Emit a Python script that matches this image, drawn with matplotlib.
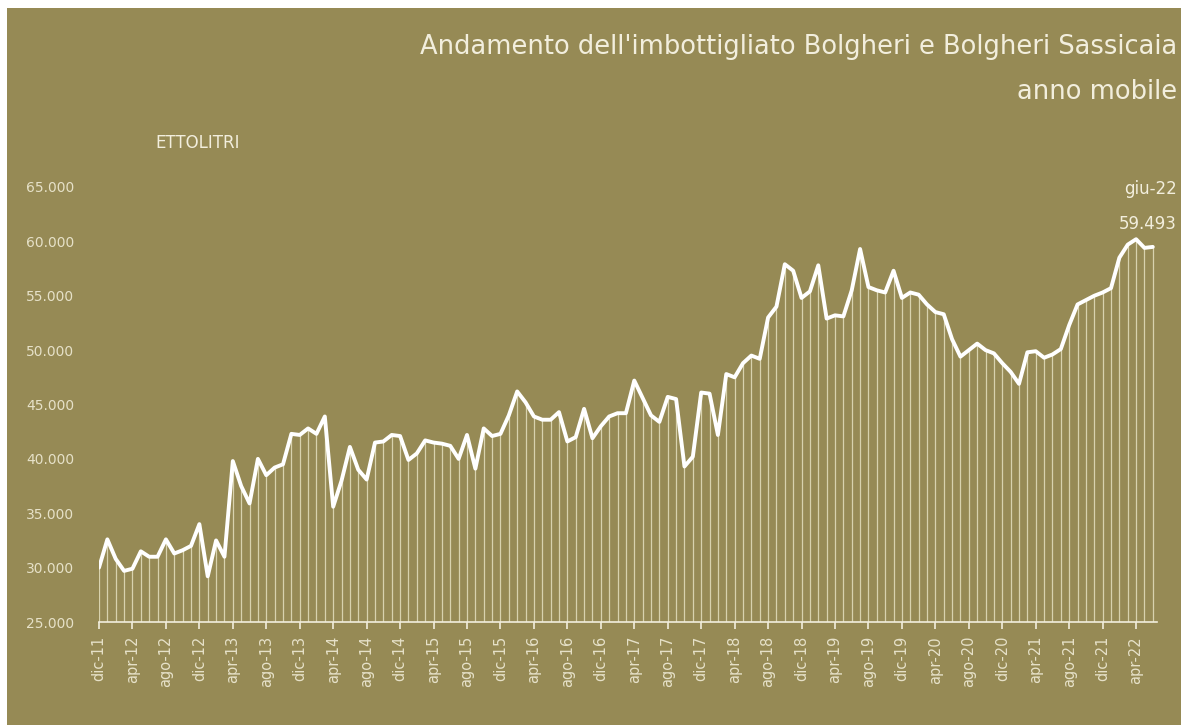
import matplotlib
matplotlib.use('Agg')

import matplotlib.pyplot as plt
import matplotlib.patches as patches
import numpy as np

# rolling 12-month bottled volume (hectolitres), monthly from dic-11 to giu-22
ettolitri = [
  30000, 32600, 30800, 29700, 29900, 31500, 31000, 31000, 32600, 31300,
  31600, 32000, 34000, 29200, 32500, 31000, 39800, 37500, 35900, 40000,
  38500, 39200, 39500, 42300, 42200, 42800, 42300, 43900, 35600, 38000,
  41100, 39000, 38100, 41500, 41600, 42200, 42100, 39900, 40500, 41700,
  41500, 41400, 41200, 40000, 42200, 39100, 42800, 42100, 42300, 44000,
  46200, 45200, 43900, 43600, 43600, 44300, 41600, 42000, 44600, 41900,
  43000, 43900, 44200, 44200, 47200, 45600, 44000, 43400, 45700, 45500,
  39300, 40200, 46100, 46000, 42200, 47800, 47500, 48800, 49500, 49200,
  53000, 54000, 57900, 57300, 54800, 55400, 57800, 52900, 53200, 53100,
  55500, 59300, 55800, 55500, 55300, 57300, 54800, 55300, 55100, 54200,
  53500, 53300, 51000, 49400, 50000, 50600, 50000, 49700, 48800, 48000,
  46900, 49800, 49900, 49300, 49600, 50100, 52300, 54200, 54600, 55000,
  55300, 55700, 58500, 59700, 60200, 59400, 59493,
]
mesi = ['gen', 'feb', 'mar', 'apr', 'mag', 'giu', 'lug', 'ago', 'set', 'ott', 'nov', 'dic']
start_year = 11
start_month = 11  # dic
y_ticks = [25000, 30000, 35000, 40000, 45000, 50000, 55000, 60000, 65000]
y_labels = ['25.000', '30.000', '35.000', '40.000', '45.000', '50.000', '55.000', '60.000', '65.000']

title = "Andamento dell'imbottigliato Bolgheri e Bolgheri Sassicaia"
subtitle = "anno mobile"
unit_label = "ETTOLITRI"
last_label = "giu-22"
last_value = "59.493"

OLIVE = '#968a55'
CREAM = '#f2eedd'
TICKTXT = '#e6e1c8'
DROP = '#d8d2ae'

def month_labels(n):
  labels = []
  for k in range(n):
    m = (start_month + k) % 12
    y = start_year + (start_month + k) // 12
    labels.append('%s-%02d' % (mesi[m], y))
  return labels

W, H = 1181, 725
fig = plt.figure(figsize=(W / 100, H / 100), dpi=100)
fig.patch.set_facecolor('white')
fig.patches.append(patches.Rectangle((7 / W, 0), 1, (H - 8) / H, transform=fig.transFigure,
                                     facecolor=OLIVE, edgecolor='none', zorder=-10))

ax = fig.add_axes([99 / W, (H - 622) / H, 1058 / W, (622 - 187) / H])
ax.set_facecolor('none')

x = np.arange(len(ettolitri))
labels = month_labels(len(ettolitri))

ax.vlines(x, 25000, ettolitri, color=DROP, lw=0.9, zorder=1)
ax.plot(x, ettolitri, color='white', lw=2.8, solid_joinstyle='round', solid_capstyle='round', zorder=3)

ax.set_xlim(0, 126.5)
ax.set_ylim(25000, 65000)

for s in ['top', 'right', 'left']:
  ax.spines[s].set_visible(False)
ax.spines['bottom'].set_color(CREAM)
ax.spines['bottom'].set_linewidth(1.2)

ax.set_xticks(x[::4])
ax.set_xticklabels(labels[::4], rotation=90, fontsize=10.5, color=TICKTXT)
ax.tick_params(axis='x', colors=CREAM, length=5, width=1.2, pad=5)
for t in ax.get_xticklabels():
  t.set_color(TICKTXT)
ax.set_yticks(y_ticks)
ax.set_yticklabels(y_labels, fontsize=10, color=TICKTXT)
ax.tick_params(axis='y', length=0, pad=18)

fig.text(1177 / W, 1 - 47 / H, title, fontsize=18.5, color=CREAM, ha='right', va='center')
fig.text(1177 / W, 1 - 92 / H, subtitle, fontsize=18.5, color=CREAM, ha='right', va='center')
fig.text(155 / W, 1 - 143 / H, unit_label, fontsize=12, color=CREAM, ha='left', va='center')
fig.text(1177 / W, 1 - 189 / H, last_label, fontsize=12, color=CREAM, ha='right', va='center')
fig.text(1177 / W, 1 - 224 / H, last_value, fontsize=12, color=CREAM, ha='right', va='center')

fig.savefig('out.png', dpi=100, facecolor=fig.get_facecolor())
